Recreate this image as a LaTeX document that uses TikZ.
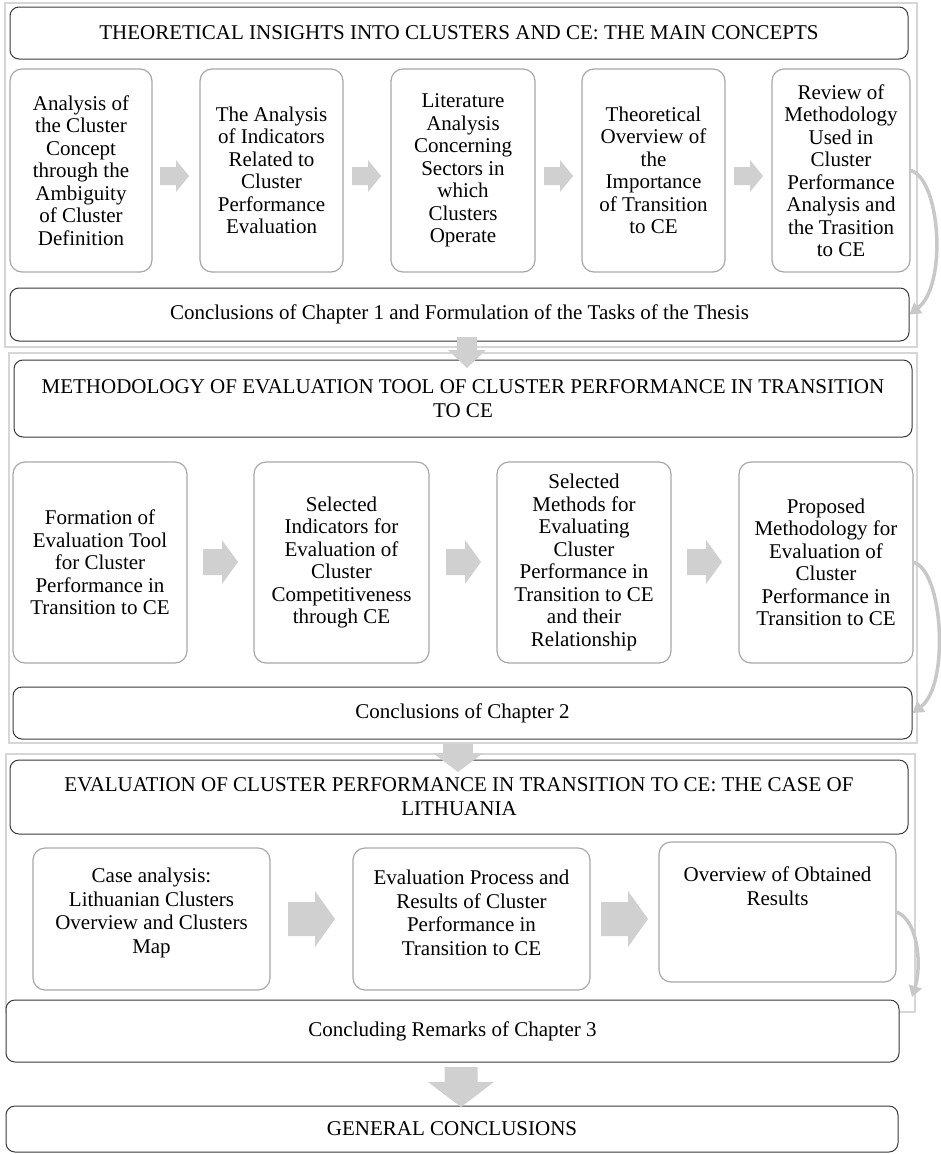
\documentclass[tikz,border=0pt]{standalone}
\usepackage{fontspec}
\setmainfont{Liberation Serif}
\usetikzlibrary{arrows.meta}
\definecolor{framegray}{HTML}{D6D6D6}
\definecolor{arrowgray}{HTML}{D0D0D0}
\definecolor{curvegray}{HTML}{C8C8C8}
\definecolor{titleline}{HTML}{3A3A3A}
\definecolor{stepline}{HTML}{A8A8A8}
\tikzset{
  frame/.style={draw=framegray, line width=2.5pt},
  titlebox/.style={draw=titleline, line width=1pt, rounded corners=9pt, fill=white, align=center, inner sep=0pt, font=\fontsize{21}{24}\selectfont},
  stepbox/.style={draw=stepline, line width=1.2pt, rounded corners=12pt, fill=white, align=center, inner sep=0pt, font=\fontsize{21}{22.5}\selectfont},
  steptext/.style={align=center, inner sep=0pt, font=\fontsize{21}{23.5}\selectfont},
  blockfill/.style={fill=arrowgray},
  loopback/.style={draw=curvegray, line width=3.5pt, -{Triangle[length=11pt,width=13pt]}},
}
\newcommand\rightblock[6]{%
  \fill[blockfill] (#1,{#3-#4}) -- ({#2-#6},{#3-#4}) -- ({#2-#6},{#3-#5}) -- (#2,#3) -- ({#2-#6},{#3+#5}) -- ({#2-#6},{#3+#4}) -- (#1,{#3+#4}) -- cycle;}
\newcommand\downblock[6]{%
  \fill[blockfill] ({#1-#4},#2) -- ({#1+#4},#2) -- ({#1+#4},{#3-#6}) -- ({#1+#5},{#3-#6}) -- (#1,#3) -- ({#1-#5},{#3-#6}) -- ({#1-#4},{#3-#6}) -- cycle;}
\begin{document}
\begin{tikzpicture}[x=1pt,y=-1pt]
\useasboundingbox[fill=white] (0,0) rectangle (940,1154);
% section frames
\draw[frame] (5,3) rectangle (917,347);
\draw[frame] (9,353) rectangle (917,743);
\draw[frame] (6,754) rectangle (915,1012);

% ---- Section 1
\node[titlebox, minimum width=898pt, minimum height=52pt] (t1) at (459,33) {THEORETICAL INSIGHTS INTO CLUSTERS AND CE: THE MAIN CONCEPTS};
\node[stepbox, minimum width=142pt, minimum height=203pt] (s11) at (81,170.5) {Analysis of\\the Cluster\\Concept\\through the\\Ambiguity\\of Cluster\\Definition};
\node[stepbox, minimum width=143pt, minimum height=203pt] (s12) at (271.5,170.5) {The Analysis\\of Indicators\\Related to\\Cluster\\Performance\\Evaluation};
\node[stepbox, minimum width=144pt, minimum height=203pt] (s13) at (463,170.5) {Literature\\Analysis\\Concerning\\Sectors in\\which\\Clusters\\Operate};
\node[stepbox, minimum width=143pt, minimum height=203pt] (s14) at (653.5,170.5) {Theoretical\\Overview of\\the\\Importance\\of Transition\\to CE};
\node[stepbox, minimum width=138pt, minimum height=203pt] (s15) at (841,170.5) {Review of\\Methodology\\Used in\\Cluster\\Performance\\Analysis and\\the Trasition\\to CE};
\node[titlebox, minimum width=899pt, minimum height=53pt] (c1) at (459.5,314.5) {Conclusions of Chapter 1 and Formulation of the Tasks of the Thesis};
\rightblock{160}{189}{176}{9}{16}{13}
\rightblock{352}{381}{176}{9}{16}{13}
\rightblock{544}{573}{176}{9}{16}{13}
\rightblock{734}{763}{176}{9}{16}{13}

% ---- Section 2
\node[titlebox, minimum width=898pt, minimum height=77pt] (t2) at (463,398.5) {METHODOLOGY OF EVALUATION TOOL OF CLUSTER PERFORMANCE IN TRANSITION\\TO CE};
\node[stepbox, minimum width=174pt, minimum height=201pt] (s21) at (100,562.5) {Formation of\\Evaluation Tool\\for Cluster\\Performance in\\Transition to CE};
\node[stepbox, minimum width=175pt, minimum height=201pt] (s22) at (341.5,562.5) {Selected\\Indicators for\\Evaluation of\\Cluster\\Competitiveness\\through CE};
\node[stepbox, minimum width=174pt, minimum height=201pt] (s23) at (584,562.5) {Selected\\Methods for\\Evaluating\\Cluster\\Performance in\\Transition to CE\\and their\\Relationship};
\node[stepbox, minimum width=174pt, minimum height=201pt] (s24) at (826,562.5) {Proposed\\Methodology for\\Evaluation of\\Cluster\\Performance in\\Transition to CE};
\node[titlebox, minimum width=899pt, minimum height=52pt] (c2) at (462.5,713) {Conclusions of Chapter 2};
\rightblock{203}{238}{562}{13}{22}{16}
\rightblock{446}{481}{562}{13}{22}{16}
\rightblock{687}{722}{562}{13}{22}{16}

% ---- Section 3
\node[titlebox, minimum width=898pt, minimum height=74pt] (t3) at (459,797) {EVALUATION OF CLUSTER PERFORMANCE IN TRANSITION TO CE: THE CASE OF\\LITHUANIA};
\node[stepbox, minimum width=237pt, minimum height=142pt] (s31) at (151.5,919) {};
\node[steptext] (x31) at (151.5,913) {Case analysis:\\Lithuanian Clusters\\Overview and Clusters\\Map};
\node[stepbox, minimum width=237pt, minimum height=142pt] (s32) at (471.5,919) {};
\node[steptext] (x32) at (471.5,913) {Evaluation Process and\\Results of Cluster\\Performance in\\Transition to CE};
\node[stepbox, minimum width=237pt, minimum height=140pt] (s33) at (777.5,912) {};
\node[steptext] (x33) at (777.5,886) {Overview of Obtained\\Results};
\rightblock{288}{335}{919}{17}{28}{20}
\rightblock{601}{648}{919}{17}{28}{20}
\node[titlebox, minimum width=893pt, minimum height=62pt] (c3) at (452.5,1031) {Concluding Remarks of Chapter 3};
\node[titlebox, minimum width=892pt, minimum height=46pt] (g) at (452,1129) {GENERAL CONCLUSIONS};

% ---- loop-back arrows
\coordinate (e3) at (912,997);
\draw[loopback] (s15.east) .. controls (940,178) and (948,285) .. (c1.east);
\draw[loopback] (s24.east) .. controls (943,570) and (950,685) .. (c2.east);
\draw[loopback] (s33.east) .. controls (918,920) and (922,965) .. (e3);

% ---- down arrows between sections
\downblock{467}{337}{368}{10}{19}{18}
\downblock{458}{744}{772}{15}{25}{19}
\downblock{461}{1067}{1107}{16.5}{33}{25}
\end{tikzpicture}
\end{document}
